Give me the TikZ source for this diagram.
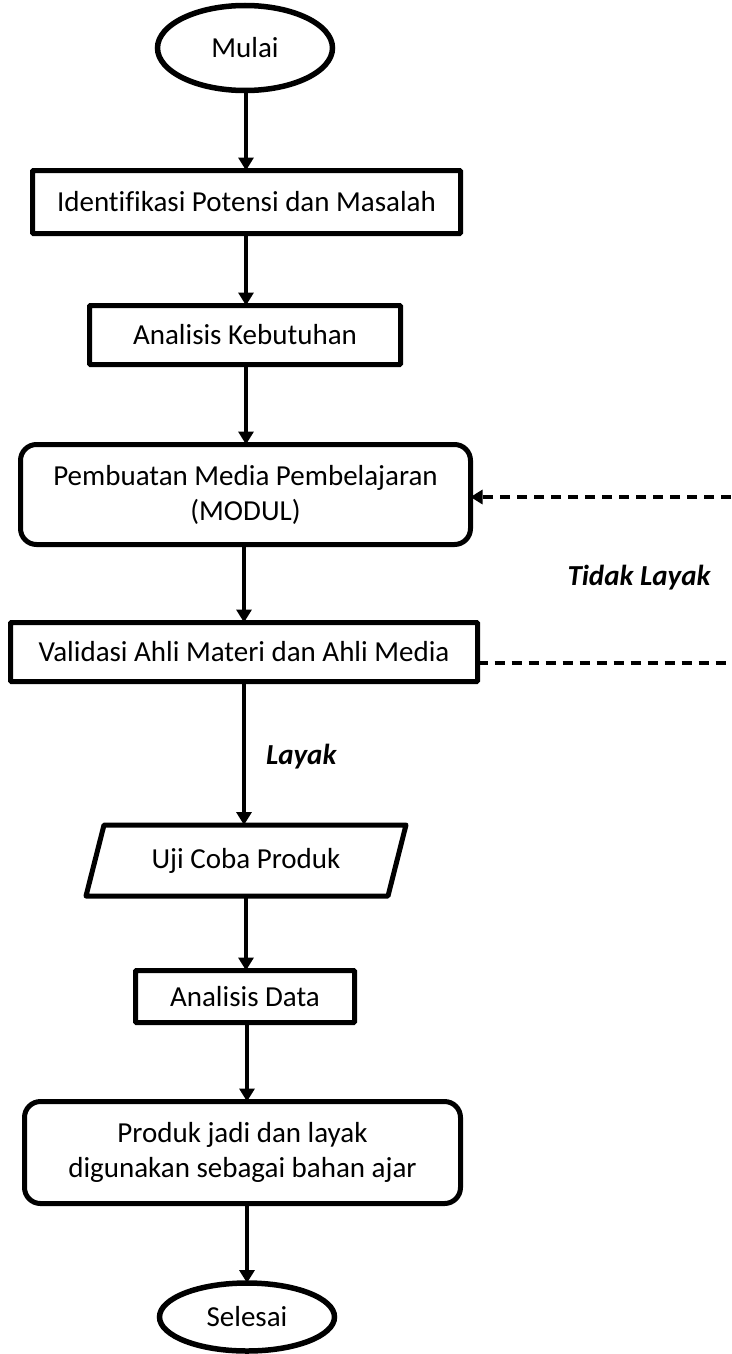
\documentclass[tikz,border=0pt]{standalone}
\usepackage{fontspec}
\setmainfont{Carlito}[Ligatures=CommonOff]
\usetikzlibrary{shapes.geometric,arrows.meta,calc}
\begin{document}
\begin{tikzpicture}[x=1pt,y=-1pt,
  font=\fontsize{29}{35}\selectfont,
  every node/.style={inner sep=0pt, outer sep=0pt, align=center},
  term/.style={ellipse, draw, line width=5.5pt},
  procbox/.style={rectangle, draw, line width=5pt, rounded corners=1pt},
  softbox/.style={rectangle, draw, line width=5pt, rounded corners=16pt},
  flow/.style={line width=4pt, -{Triangle[length=13pt,width=15pt]}},
  back/.style={line width=3.5pt, dash pattern=on 10pt off 7pt},
  verdict/.style={font=\fontsize{29}{35}\selectfont\bfseries\itshape}]
\useasboundingbox (0,0) rectangle (731,1354);

% terminals and process steps
\node[term, minimum width=175, minimum height=85] (start) at (245,48) {Mulai};
\node[procbox, minimum width=428, minimum height=63] (b1) at (246.5,202) {Identifikasi Potensi dan Masalah};
\node[procbox, minimum width=311, minimum height=59] (b2) at (245,335) {Analisis Kebutuhan};
\node[softbox, minimum width=450, minimum height=100] (b3) at (245.5,494.5) {Pembuatan Media Pembelajaran\\(MODUL)};
\node[procbox, minimum width=467, minimum height=59] (b4) at (244,652) {Validasi Ahli Materi dan Ahli Media};

% input/output step drawn as a parallelogram
\node[minimum width=302, minimum height=71] (b5) at (246,860.5) {Uji Coba Produk};
\draw[line width=5pt, line join=round]
  ($(b5.north west)+(9,0)$) -- ($(b5.north east)+(9,0)$) --
  ($(b5.south east)+(-9,0)$) -- ($(b5.south west)+(-9,0)$) -- cycle;

\node[procbox, minimum width=219, minimum height=52] (b6) at (245,996.5) {Analisis Data};
\node[softbox, minimum width=436, minimum height=102] (b7) at (242.5,1152.5) {Produk jadi dan layak\\digunakan sebagai bahan ajar};
\node[term, minimum width=175, minimum height=68] (stop) at (247,1317) {Selesai};

% main flow
\draw[flow] (start.south -| 246,0) -- (b1.north -| 246,0);
\draw[flow] (b1.south -| 246,0) -- (b2.north -| 246,0);
\draw[flow] (b2.south -| 246,0) -- (b3.north -| 246,0);
\draw[flow] (b3.south -| 244,0) -- (b4.north -| 244,0);
\draw[flow] (b4.south -| 244,0) -- (b5.north -| 244,0)
  node[verdict, pos=0.52, anchor=west, xshift=22pt] (ok) {Layak};
\draw[flow] (b5.south -| 246,0) -- (b6.north -| 246,0);
\draw[flow] (b6.south -| 247,0) -- (b7.north -| 247,0);
\draw[flow] (b7.south -| 247,0) -- (stop.north -| 247,0);

% revision loop running off the right edge
\coordinate (loopout) at (731,663);
\coordinate (loopin) at (731,497);
\draw[back] (b4.east |- loopout) -- (loopout);
\draw[back, -{Triangle[length=12pt,width=14pt]}] (loopin) -- (b3.east |- loopin);
\node[verdict] (notok) at (639,578) {Tidak Layak};
\end{tikzpicture}
\end{document}
